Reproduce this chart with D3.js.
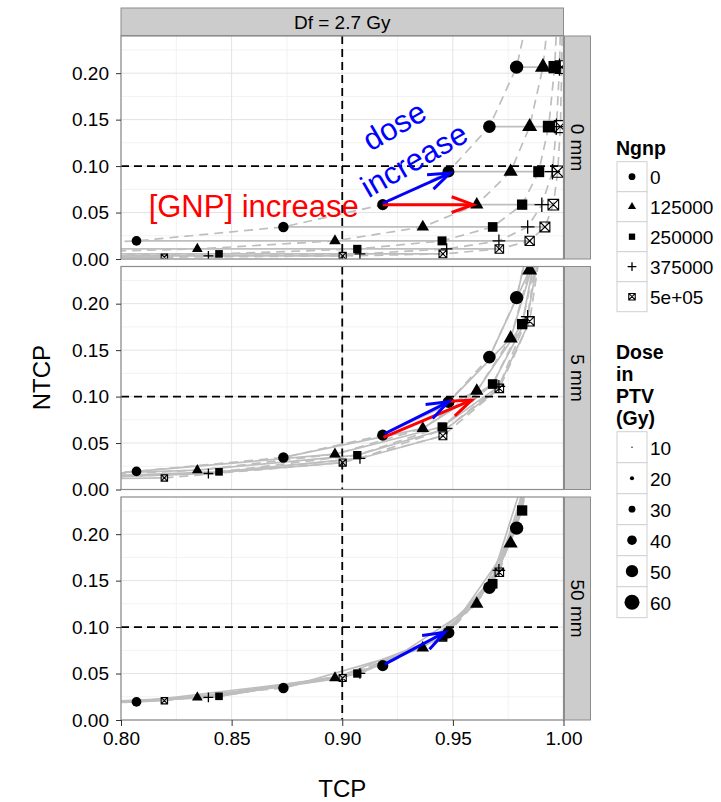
<!DOCTYPE html>
<html>
<head>
<meta charset="utf-8">
<script src="https://cdnjs.cloudflare.com/ajax/libs/d3/7.8.5/d3.min.js"></script>
<style>
body { margin: 0; background: #fff; }
svg { font-family: "Liberation Sans", Arial, Helvetica, sans-serif; }
</style>
</head>
<body>
<div id="chart"></div>
<script>
// values
var ngnpLevels = ["0", "125000", "250000", "375000", "5e+05"];
var distances = ["0 mm", "5 mm", "50 mm"];
var dosePTV = [29.7, 32.4, 35.1, 37.8, 40.5, 43.2, 45.9, 48.6, 51.3, 54.0, 56.7];

// TCP per Ngnp (rows) and dose (columns), same in every facet
var tcp = [
    [0.300, 0.440, 0.580, 0.710, 0.807, 0.8734, 0.9183, 0.948, 0.9665, 0.9788, 0.9865],
    [0.500, 0.630, 0.745, 0.8345, 0.8967, 0.9364, 0.9608, 0.9761, 0.9847, 0.9907, 0.9945],
    [0.660, 0.770, 0.8443, 0.9068, 0.9451, 0.968, 0.9813, 0.9888, 0.9933, 0.9960, 0.9977],
    [0.745, 0.8395, 0.908, 0.9472, 0.9708, 0.9838, 0.9902, 0.9950, 0.9968, 0.9982, 0.9990],
    [0.8196, 0.9002, 0.9455, 0.971, 0.9847, 0.9916, 0.9954, 0.9974, 0.9986, 0.9992, 0.9996]
];

var ntcp0mm = [
    [0.0020, 0.0033, 0.0055, 0.0108, 0.0195, 0.0345, 0.0585, 0.0940, 0.1425, 0.2065, 0.29],
    [0.0020, 0.0033, 0.0055, 0.0108, 0.0195, 0.0345, 0.0585, 0.0940, 0.1425, 0.2065, 0.29],
    [0.0020, 0.0033, 0.0055, 0.0108, 0.0195, 0.0345, 0.0585, 0.0940, 0.1425, 0.2065, 0.29],
    [0.0020, 0.0033, 0.0055, 0.0108, 0.0195, 0.0345, 0.0585, 0.0940, 0.1425, 0.2065, 0.29],
    [0.0020, 0.0033, 0.0055, 0.0108, 0.0195, 0.0345, 0.0585, 0.0940, 0.1425, 0.2065, 0.29]
];
var ntcp5mm = [
    [0.0020, 0.0033, 0.0055, 0.0108, 0.0195, 0.0345, 0.0585, 0.0940, 0.1425, 0.2065, 0.29],
    [0.0040, 0.0064, 0.0107, 0.0208, 0.0380, 0.0657, 0.1060, 0.1627, 0.2360, 0.33, 0.45],
    [0.0070, 0.0115, 0.0190, 0.0370, 0.0675, 0.1135, 0.1780, 0.2630, 0.37, 0.50, 0.65],
    [0.0100, 0.0172, 0.0334, 0.0657, 0.1110, 0.1860, 0.29, 0.42, 0.55, 0.68, 0.80],
    [0.0125, 0.0290, 0.0578, 0.1088, 0.1810, 0.29, 0.42, 0.55, 0.68, 0.80, 0.88]
];
var ntcp50mm = [
    [0.0020, 0.0033, 0.0055, 0.0108, 0.0195, 0.0345, 0.0585, 0.0940, 0.1425, 0.2065, 0.29],
    [0.0047, 0.0077, 0.0130, 0.0244, 0.0452, 0.0776, 0.1250, 0.1900, 0.28, 0.39, 0.51],
    [0.0095, 0.0155, 0.0255, 0.0500, 0.0900, 0.1466, 0.2255, 0.33, 0.46, 0.60, 0.74],
    [0.0140, 0.0244, 0.0502, 0.0927, 0.1610, 0.26, 0.39, 0.52, 0.65, 0.76, 0.85],
    [0.0208, 0.0452, 0.0890, 0.1590, 0.26, 0.39, 0.52, 0.65, 0.76, 0.85, 0.90]
];
var ntcpByPanel = [ntcp0mm, ntcp5mm, ntcp50mm];

// annotation arrows [x1, y1, x2, y2] per facet
var doseArrows = [[0.9183, 0.0600, 0.9487, 0.0925], [0.9193, 0.0603, 0.9480, 0.0944], [0.9193, 0.0602, 0.9464, 0.0944]];
var gnpArrows = [[0.9183, 0.0585, 0.9592, 0.0585], [0.9186, 0.0560, 0.9585, 0.0962], null];

var xTicks = [0.80, 0.85, 0.90, 0.95, 1.00];
var xMinor = [0.825, 0.875, 0.925, 0.975];
var yTicks = [0, 0.05, 0.10, 0.15, 0.20];
var yMinor = [0.025, 0.075, 0.125, 0.175, 0.225];
var doseBreaks = [10, 20, 30, 40, 50, 60];

var W = 721, H = 802;
var left = 121, panelW = 442.5, panelH = 223;
var panelTops = [36, 266.5, 497];

var svg = d3.select("#chart").append("svg")
    .attr("width", W)
    .attr("height", H);

var x = d3.scaleLinear().domain([0.8, 1.0]).range([0, panelW]);
var y = d3.scaleLinear().domain([0, 0.24]).range([panelH, 0]);
var diam = d3.scaleLinear().domain([10, 60]).range([1.4, 15]);

// draw one ggplot-like point shape
function drawShape(g, s, cx, cy, r) {
    if (s == 0) {
        g.append("circle").attr("cx", cx).attr("cy", cy).attr("r", r).attr("fill", "#000");
    } else if (s == 1) {
        var R = 1.38 * r;
        g.append("path")
            .attr("d", "M" + cx + "," + (cy - R) + "L" + (cx + R * 0.866) + "," + (cy + R / 2) +
                "L" + (cx - R * 0.866) + "," + (cy + R / 2) + "Z")
            .attr("fill", "#000");
    } else if (s == 2) {
        var h = 0.925 * r;
        g.append("rect").attr("x", cx - h).attr("y", cy - h)
            .attr("width", 2 * h).attr("height", 2 * h).attr("fill", "#000");
    } else if (s == 3) {
        var p = 1.3 * r;
        g.append("path")
            .attr("d", "M" + (cx - p) + "," + cy + "H" + (cx + p) + "M" + cx + "," + (cy - p) + "V" + (cy + p))
            .attr("stroke", "#000").attr("stroke-width", 1.3).attr("fill", "none");
    } else {
        var q = 0.95 * r;
        g.append("path")
            .attr("d", "M" + (cx - q) + "," + (cy - q) + "h" + 2 * q + "v" + 2 * q + "h" + (-2 * q) + "Z" +
                "M" + (cx - q) + "," + (cy - q) + "L" + (cx + q) + "," + (cy + q) +
                "M" + (cx + q) + "," + (cy - q) + "L" + (cx - q) + "," + (cy + q))
            .attr("stroke", "#000").attr("stroke-width", 1.1).attr("fill", "none");
    }
}

function drawArrow(g, a, color) {
    var x1 = x(a[0]), y1 = y(a[1]), x2 = x(a[2]), y2 = y(a[3]);
    var th = Math.atan2(y2 - y1, x2 - x1), L = 23, ang = 20 * Math.PI / 180;
    g.append("line")
        .attr("x1", x1).attr("y1", y1).attr("x2", x2).attr("y2", y2)
        .attr("stroke", color).attr("stroke-width", 3);
    g.append("path")
        .attr("d", "M" + (x2 - L * Math.cos(th - ang)) + "," + (y2 - L * Math.sin(th - ang)) +
            "L" + x2 + "," + y2 +
            "L" + (x2 - L * Math.cos(th + ang)) + "," + (y2 - L * Math.sin(th + ang)))
        .attr("stroke", color).attr("stroke-width", 3).attr("fill", "none")
        .attr("stroke-linejoin", "miter");
}

var line = d3.line()
    .x(function(d) { return x(d[0]); })
    .y(function(d) { return y(d[1]); });

// top strip
svg.append("rect")
    .attr("x", left).attr("y", 8).attr("width", panelW).attr("height", 27.5)
    .attr("fill", "#cccccc").attr("stroke", "#8c8c8c").attr("stroke-width", 1);
svg.append("text")
    .attr("x", left + panelW / 2).attr("y", 22)
    .attr("text-anchor", "middle").attr("dominant-baseline", "central")
    .attr("font-size", 19).text("Df = 2.7 Gy");

panelTops.forEach(function(top, pi) {
    var ntcp = ntcpByPanel[pi];
    var g = svg.append("g").attr("transform", "translate(" + left + "," + top + ")");

    g.append("defs").append("clipPath")
        .attr("id", "clip" + pi)
        .append("rect").attr("width", panelW).attr("height", panelH);

    g.append("rect").attr("width", panelW).attr("height", panelH).attr("fill", "#fff");

    // grid
    g.selectAll(".xminor").data(xMinor).enter().append("line")
        .attr("x1", x).attr("x2", x).attr("y1", 0).attr("y2", panelH)
        .attr("stroke", "#f2f2f2").attr("stroke-width", 1);
    g.selectAll(".yminor").data(yMinor).enter().append("line")
        .attr("y1", y).attr("y2", y).attr("x1", 0).attr("x2", panelW)
        .attr("stroke", "#f2f2f2").attr("stroke-width", 1);
    g.selectAll(".xmajor").data(xTicks).enter().append("line")
        .attr("x1", x).attr("x2", x).attr("y1", 0).attr("y2", panelH)
        .attr("stroke", "#e3e3e3").attr("stroke-width", 1);
    g.selectAll(".ymajor").data(yTicks).enter().append("line")
        .attr("y1", y).attr("y2", y).attr("x1", 0).attr("x2", panelW)
        .attr("stroke", "#e3e3e3").attr("stroke-width", 1);

    var plot = g.append("g").attr("clip-path", "url(#clip" + pi + ")");

    // same dose across Ngnp (solid)
    dosePTV.forEach(function(d, k) {
        var pts = ngnpLevels.map(function(n, i) { return [tcp[i][k], ntcp[i][k]]; });
        plot.append("path").attr("d", line(pts))
            .attr("fill", "none").attr("stroke", "#bebebe").attr("stroke-width", 1.7);
    });
    // same Ngnp across dose (dashed)
    ngnpLevels.forEach(function(n, i) {
        var pts = dosePTV.map(function(d, k) { return [tcp[i][k], ntcp[i][k]]; });
        plot.append("path").attr("d", line(pts))
            .attr("fill", "none").attr("stroke", "#bebebe").attr("stroke-width", 1.7)
            .attr("stroke-dasharray", "9,6");
    });

    // reference lines
    plot.append("line").attr("x1", x(0.9)).attr("x2", x(0.9)).attr("y1", 0).attr("y2", panelH)
        .attr("stroke", "#000").attr("stroke-width", 1.8).attr("stroke-dasharray", "8,5");
    plot.append("line").attr("x1", 0).attr("x2", panelW).attr("y1", y(0.1)).attr("y2", y(0.1))
        .attr("stroke", "#000").attr("stroke-width", 1.8).attr("stroke-dasharray", "8,5");

    // points
    ngnpLevels.forEach(function(n, i) {
        dosePTV.forEach(function(d, k) {
            drawShape(plot, i, x(tcp[i][k]), y(ntcp[i][k]), diam(d) / 2);
        });
    });

    // arrows
    if (gnpArrows[pi]) drawArrow(plot, gnpArrows[pi], "#ff0000");
    drawArrow(plot, doseArrows[pi], "#0000ff");

    if (pi == 0) {
        plot.append("text")
            .attr("x", x(0.86)).attr("y", y(0.056))
            .attr("text-anchor", "middle").attr("dominant-baseline", "central")
            .attr("font-size", 31).attr("fill", "#ff0000")
            .text("[GNP] increase");
        var t = plot.append("text")
            .attr("transform", "translate(" + x(0.9279) + "," + y(0.1253) + ") rotate(-30)")
            .attr("text-anchor", "middle").attr("dominant-baseline", "central")
            .attr("font-size", 31).attr("fill", "#0000ff");
        t.append("tspan").attr("x", 0).attr("y", -19.75).text("dose");
        t.append("tspan").attr("x", 0).attr("y", 19.75).text("increase");
    }

    // border
    g.append("rect").attr("width", panelW).attr("height", panelH)
        .attr("fill", "none").attr("stroke", "#8c8c8c").attr("stroke-width", 1.2);

    // right strip
    svg.append("rect")
        .attr("x", left + panelW + 1).attr("y", top).attr("width", 26).attr("height", panelH)
        .attr("fill", "#cccccc").attr("stroke", "#8c8c8c").attr("stroke-width", 1);
    svg.append("text")
        .attr("transform", "translate(" + (left + panelW + 14) + "," + (top + panelH / 2) + ") rotate(90)")
        .attr("text-anchor", "middle").attr("dominant-baseline", "central")
        .attr("font-size", 19).text(distances[pi]);

    // y axis
    var yAxis = d3.axisLeft(y).tickValues(yTicks).tickSize(5).tickPadding(7)
        .tickFormat(d3.format(".2f"));
    var ya = g.append("g").call(yAxis);
    ya.select(".domain").remove();
    ya.selectAll("line").attr("stroke", "#333");
    ya.selectAll("text").attr("font-size", 19).attr("fill", "#000")
        .attr("font-family", "Liberation Sans, Arial, sans-serif");

    if (pi == 2) {
        var xAxis = d3.axisBottom(x).tickValues(xTicks).tickSize(6).tickPadding(6)
            .tickFormat(d3.format(".2f"));
        var xa = g.append("g").attr("transform", "translate(0," + panelH + ")").call(xAxis);
        xa.select(".domain").remove();
        xa.selectAll("line").attr("stroke", "#333");
        xa.selectAll("text").attr("font-size", 19).attr("fill", "#000")
            .attr("font-family", "Liberation Sans, Arial, sans-serif");
    }
});

// axis titles
svg.append("text")
    .attr("x", left + panelW / 2).attr("y", 788)
    .attr("text-anchor", "middle").attr("dominant-baseline", "central")
    .attr("font-size", 24).text("TCP");
svg.append("text")
    .attr("transform", "translate(41," + (36 + (719.3 - 36) / 2) + ") rotate(-90)")
    .attr("text-anchor", "middle").attr("dominant-baseline", "central")
    .attr("font-size", 24).text("NTCP");

// legend: Ngnp
var lg = svg.append("g");
lg.append("text").attr("x", 616).attr("y", 148)
    .attr("dominant-baseline", "central")
    .attr("font-size", 19.5).attr("font-weight", "bold").text("Ngnp");
ngnpLevels.forEach(function(n, i) {
    var ky = 161.7 + i * 30;
    lg.append("rect").attr("x", 617).attr("y", ky).attr("width", 30).attr("height", 30)
        .attr("fill", "#fff").attr("stroke", "#d0d0d0").attr("stroke-width", 1);
    drawShape(lg, i, 632, ky + 15, 3.4);
    lg.append("text").attr("x", 650).attr("y", ky + 16)
        .attr("dominant-baseline", "central").attr("font-size", 19).text(n);
});

// legend: dose
["Dose", "in", "PTV", "(Gy)"].forEach(function(s, i) {
    lg.append("text").attr("x", 616).attr("y", 351.7 + i * 22.2)
        .attr("dominant-baseline", "central")
        .attr("font-size", 19.5).attr("font-weight", "bold").text(s);
});
doseBreaks.forEach(function(d, i) {
    var ky = 431.7 + i * 31;
    lg.append("rect").attr("x", 617).attr("y", ky).attr("width", 30).attr("height", 31)
        .attr("fill", "#fff").attr("stroke", "#d0d0d0").attr("stroke-width", 1);
    lg.append("circle").attr("cx", 632).attr("cy", ky + 15.5).attr("r", diam(d) / 2).attr("fill", "#000");
    lg.append("text").attr("x", 650).attr("y", ky + 16.5)
        .attr("dominant-baseline", "central").attr("font-size", 19).text(d);
});
</script>
</body>
</html>
